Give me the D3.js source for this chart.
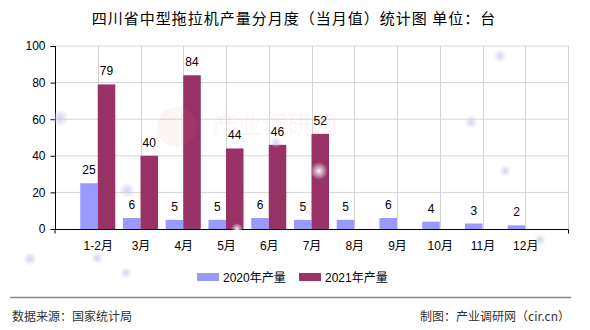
<!DOCTYPE html>
<html>
<head>
<meta charset="utf-8">
<script src="https://cdn.jsdelivr.net/npm/d3@7/dist/d3.min.js"></script>
<style>
  html, body { margin: 0; padding: 0; background: #fff; }
  svg { display: block; }
  text { font-family: "Liberation Sans", "Noto Sans CJK SC", sans-serif; }
</style>
</head>
<body>
<svg id="chart" width="590" height="330"></svg>
<script>
// Monthly output of medium tractors in Sichuan (units)
const categories = ["1-2月", "3月", "4月", "5月", "6月", "7月", "8月", "9月", "10月", "11月", "12月"];
const seriesNames = ["2020年产量", "2021年产量"];
const values2020 = [25, 6, 5, 5, 6, 5, 5, 6, 4, 3, 2];
const values2021 = [79, 40, 84, 44, 46, 52];
const yTicks = [0, 20, 40, 60, 80, 100];
const colors = ["#9999ff", "#993366"];

const svg = d3.select("#chart");
const plot = { left: 55, right: 568, top: 46, bottom: 229 };

const x = d3.scalePoint().domain(categories).range([plot.left, plot.right]).padding(1);
const y = d3.scaleLinear().domain([0, 100]).range([plot.bottom, plot.top]);
const barW = x.step() * 0.41;

// soft glow dots used as background decoration
const defs = svg.append("defs");
const glow = defs.append("radialGradient").attr("id", "glow");
glow.append("stop").attr("offset", "0%").attr("stop-color", "#c8c8e8").attr("stop-opacity", 0.8);
glow.append("stop").attr("offset", "100%").attr("stop-color", "#c8c8e8").attr("stop-opacity", 0);
const glowW = defs.append("radialGradient").attr("id", "glowW");
glowW.append("stop").attr("offset", "0%").attr("stop-color", "#ffffff").attr("stop-opacity", 0.95);
glowW.append("stop").attr("offset", "100%").attr("stop-color", "#ffffff").attr("stop-opacity", 0);

// title
svg.append("text")
  .attr("x", 294).attr("y", 24)
  .attr("text-anchor", "middle")
  .style("font-size", "15px")
  .style("letter-spacing", "1px")
  .style("font-family", "'Noto Sans CJK SC', sans-serif")
  .attr("fill", "#000")
  .text("四川省中型拖拉机产量分月度（当月值）统计图 单位：台");

// horizontal grid lines
svg.append("g").selectAll("line").data(yTicks.filter(d => d > 0)).join("line")
  .attr("x1", plot.left).attr("x2", plot.right)
  .attr("y1", d => y(d)).attr("y2", d => y(d))
  .attr("stroke", "#d4d4d4").attr("stroke-width", 1);

// vertical grid lines at category centers and right border
svg.append("g").selectAll("line").data(categories.map(c => x(c)).concat([plot.right])).join("line")
  .attr("x1", d => Math.round(d) + 0.5).attr("x2", d => Math.round(d) + 0.5)
  .attr("y1", plot.top).attr("y2", plot.bottom)
  .attr("stroke", "#d4d4d4").attr("stroke-width", 1);

// bars
const gBars = svg.append("g");
gBars.selectAll("rect.s0").data(values2020).join("rect")
  .attr("x", (d, i) => x(categories[i]) - barW)
  .attr("y", d => y(d))
  .attr("width", barW)
  .attr("height", d => y(0) - y(d))
  .attr("fill", colors[0]);
gBars.selectAll("rect.s1").data(values2021).join("rect")
  .attr("x", (d, i) => x(categories[i]))
  .attr("y", d => y(d))
  .attr("width", barW)
  .attr("height", d => y(0) - y(d))
  .attr("fill", colors[1]);

// faint site watermark
const wm = svg.append("g").attr("opacity", 0.07);
wm.append("circle").attr("cx", 177).attr("cy", 127).attr("r", 20).attr("fill", "#f08080");
wm.append("text").attr("x", 212).attr("y", 134)
  .style("font-size", "25px").style("font-family", "'Noto Sans CJK SC', sans-serif")
  .attr("fill", "#f08080").text("产业调研网");

// value labels
const gLabels = svg.append("g").style("font-size", "12px").attr("fill", "#000").attr("text-anchor", "middle");
gLabels.selectAll("text.l0").data(values2020).join("text")
  .attr("x", (d, i) => x(categories[i]) - barW / 2)
  .attr("y", d => y(d) - 9)
  .text(d => d);
gLabels.selectAll("text.l1").data(values2021).join("text")
  .attr("x", (d, i) => x(categories[i]) + barW / 2)
  .attr("y", d => y(d) - 9)
  .text(d => d);

// y axis
const yAxis = d3.axisLeft(y).tickValues(yTicks).tickSize(5).tickPadding(5);
const gy = svg.append("g").attr("transform", `translate(${plot.left + 0.5},0)`).call(yAxis);
gy.select(".domain").attr("stroke", "#000").attr("d", `M-5,${plot.top + 0.5}H0V${plot.bottom + 0.5}`);
gy.selectAll(".tick line").attr("stroke", "#000");
gy.selectAll(".tick text").style("font-size", "12px").style("font-family", "'Liberation Sans', sans-serif").attr("fill", "#000");

// x axis
const xAxis = d3.axisBottom(x).tickSize(0).tickPadding(12);
const gx = svg.append("g").attr("transform", `translate(0,${plot.bottom + 0.5})`).call(xAxis);
gx.select(".domain").attr("stroke", "#000").attr("d", `M${plot.left},4V0H${plot.right + 0.5}V4`);
gx.selectAll(".tick text").style("font-size", "12px").style("font-family", "'Liberation Sans', 'Noto Sans CJK SC', sans-serif").attr("fill", "#000");

// legend
const legend = svg.append("g").style("font-size", "12px");
const legendX = [197, 299];
seriesNames.forEach((name, i) => {
  legend.append("rect").attr("x", legendX[i]).attr("y", 273).attr("width", 22).attr("height", 8).attr("fill", colors[i]);
  legend.append("text").attr("x", legendX[i] + 26).attr("y", 282).attr("fill", "#000")
    .style("font-family", "'Liberation Sans', 'Noto Sans CJK SC', sans-serif")
    .text(name);
});

// decorative glow dots
const dots = [[60, 118, 9, "glow"], [127, 190, 8, "glow"], [30, 259, 7, "glow"], [97, 258, 6, "glow"],
              [126, 273, 6, "glow"], [276, 142, 6, "glow"], [471, 122, 7, "glow"], [500, 56, 7, "glow"],
              [505, 171, 6, "glow"], [540, 240, 6, "glow"], [319, 171, 9, "glowW"], [237, 229, 6, "glowW"]];
svg.append("g").selectAll("circle").data(dots).join("circle")
  .attr("cx", d => d[0]).attr("cy", d => d[1]).attr("r", d => d[2])
  .attr("fill", d => `url(#${d[3]})`);

// footer
svg.append("line").attr("x1", 10).attr("x2", 571).attr("y1", 297.5).attr("y2", 297.5)
  .attr("stroke", "#888").attr("stroke-width", 1.5);
svg.append("text").attr("x", 12).attr("y", 321)
  .style("font-size", "12px").style("font-family", "'Noto Sans CJK SC', sans-serif")
  .attr("fill", "#333").text("数据来源：国家统计局");
svg.append("text").attr("x", 570).attr("y", 321).attr("text-anchor", "end")
  .style("font-size", "12px").style("font-family", "'Noto Sans CJK SC', sans-serif")
  .attr("fill", "#333").text("制图：产业调研网（cir.cn）");
</script>
</body>
</html>
